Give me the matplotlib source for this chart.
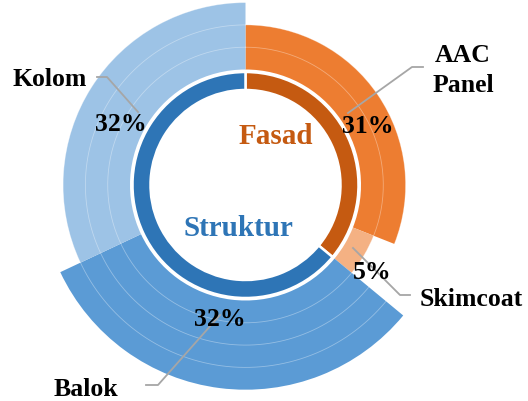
import numpy as np
import matplotlib
matplotlib.use("Agg")
import matplotlib.pyplot as plt

# ---------------- data ----------------
groups = ["Fasad", "Struktur"]
group_colors = ["#C55A11", "#2E75B6"]
group_text_colors = ["#C55A11", "#2E75B6"]

items = ["AAC\nPanel", "Skimcoat", "Balok", "Kolom"]
item_group = [0, 0, 1, 1]
item_values = [31, 5, 32, 32]
item_levels = [2, 1, 4, 3]          # outer radius level of each slice
item_colors = ["#ED7D31", "#F4B183", "#5B9BD5", "#9DC3E6"]

# ---------------- geometry (pixels) ----------------
W, H = 528, 401
cx, cy = 245.5, 185.0
RMAX = 215.0
inner_r0, inner_r1 = 95.0, 113.0
outer_r0 = 115.5
unit = 22.3

fig = plt.figure(figsize=(W / 100, H / 100), dpi=100)
ax = fig.add_axes([(cx - RMAX) / W, (H - cy - RMAX) / H, 2 * RMAX / W, 2 * RMAX / H],
                  projection="polar")
ax.set_theta_zero_location("N")
ax.set_theta_direction(-1)
ax.set_rlim(0, RMAX)
ax.axis("off")

total = sum(item_values)
group_values = [sum(v for v, g in zip(item_values, item_group) if g == k) for k in range(len(groups))]

# outer ring
start = 0.0
for v, lvl, col in zip(item_values, item_levels, item_colors):
    w = 2 * np.pi * v / total
    ax.bar(start, lvl * unit, width=w, bottom=outer_r0, align="edge",
           color=col, edgecolor="none", linewidth=0, zorder=2)
    start += w

# grid circles inside outer ring
th = np.linspace(0, 2 * np.pi, 400)
for k in range(1, max(item_levels)):
    ax.plot(th, np.full_like(th, outer_r0 + k * unit), color="white", lw=0.6, alpha=0.35, zorder=3)

# inner ring
start = 0.0
for v, col in zip(group_values, group_colors):
    w = 2 * np.pi * v / total
    ax.bar(start, inner_r1 - inner_r0, width=w, bottom=inner_r0, align="edge",
           color=col, edgecolor="white", linewidth=1.8, zorder=4)
    start += w

# ---------------- text overlay ----------------
ov = fig.add_axes([0, 0, 1, 1], zorder=10)
ov.set_xlim(0, W)
ov.set_ylim(H, 0)
ov.axis("off")
ov.patch.set_alpha(0)

fam = ["Liberation Serif", "DejaVu Serif"]
font = dict(family=fam, fontweight="bold", fontsize=18.5)
gfont = dict(family=fam, fontweight="bold", fontsize=21)

# group labels
ov.text(275.5, 144, groups[0], color=group_text_colors[0], ha="center", va="baseline", **gfont)
ov.text(238, 236, groups[1], color=group_text_colors[1], ha="center", va="baseline", **gfont)

# percentage labels
pct_pos = [(368, 133), (372, 279), (220, 326), (121, 131)]
for v, (x, y) in zip(item_values, pct_pos):
    ov.text(x, y, f"{round(100 * v / total)}%", ha="center", va="baseline", color="black", **font)

# category labels
cat_pos = [(463, 62), (471, 306), (86, 396), (50, 86)]
for name, (x, y) in zip(items, cat_pos):
    if "\n" in name:
        a, b = name.split("\n")
        ov.text(x, y, a, ha="center", va="baseline", color="black", **font)
        ov.text(x, y + 30, b, ha="center", va="baseline", color="black", **font)
    else:
        ov.text(x, y, name, ha="center", va="baseline", color="black", **font)

# leader lines
lc = "#A6A6A6"
ov.plot([348, 412, 423], [113, 67, 67], color=lc, lw=1.3)
ov.plot([353, 400, 410], [248, 295, 295], color=lc, lw=1.3)
ov.plot([220, 158, 146], [315, 385, 385], color=lc, lw=1.3)
ov.plot([97, 107, 138], [77, 77, 112], color=lc, lw=1.3)

fig.savefig("out.png", dpi=100)
